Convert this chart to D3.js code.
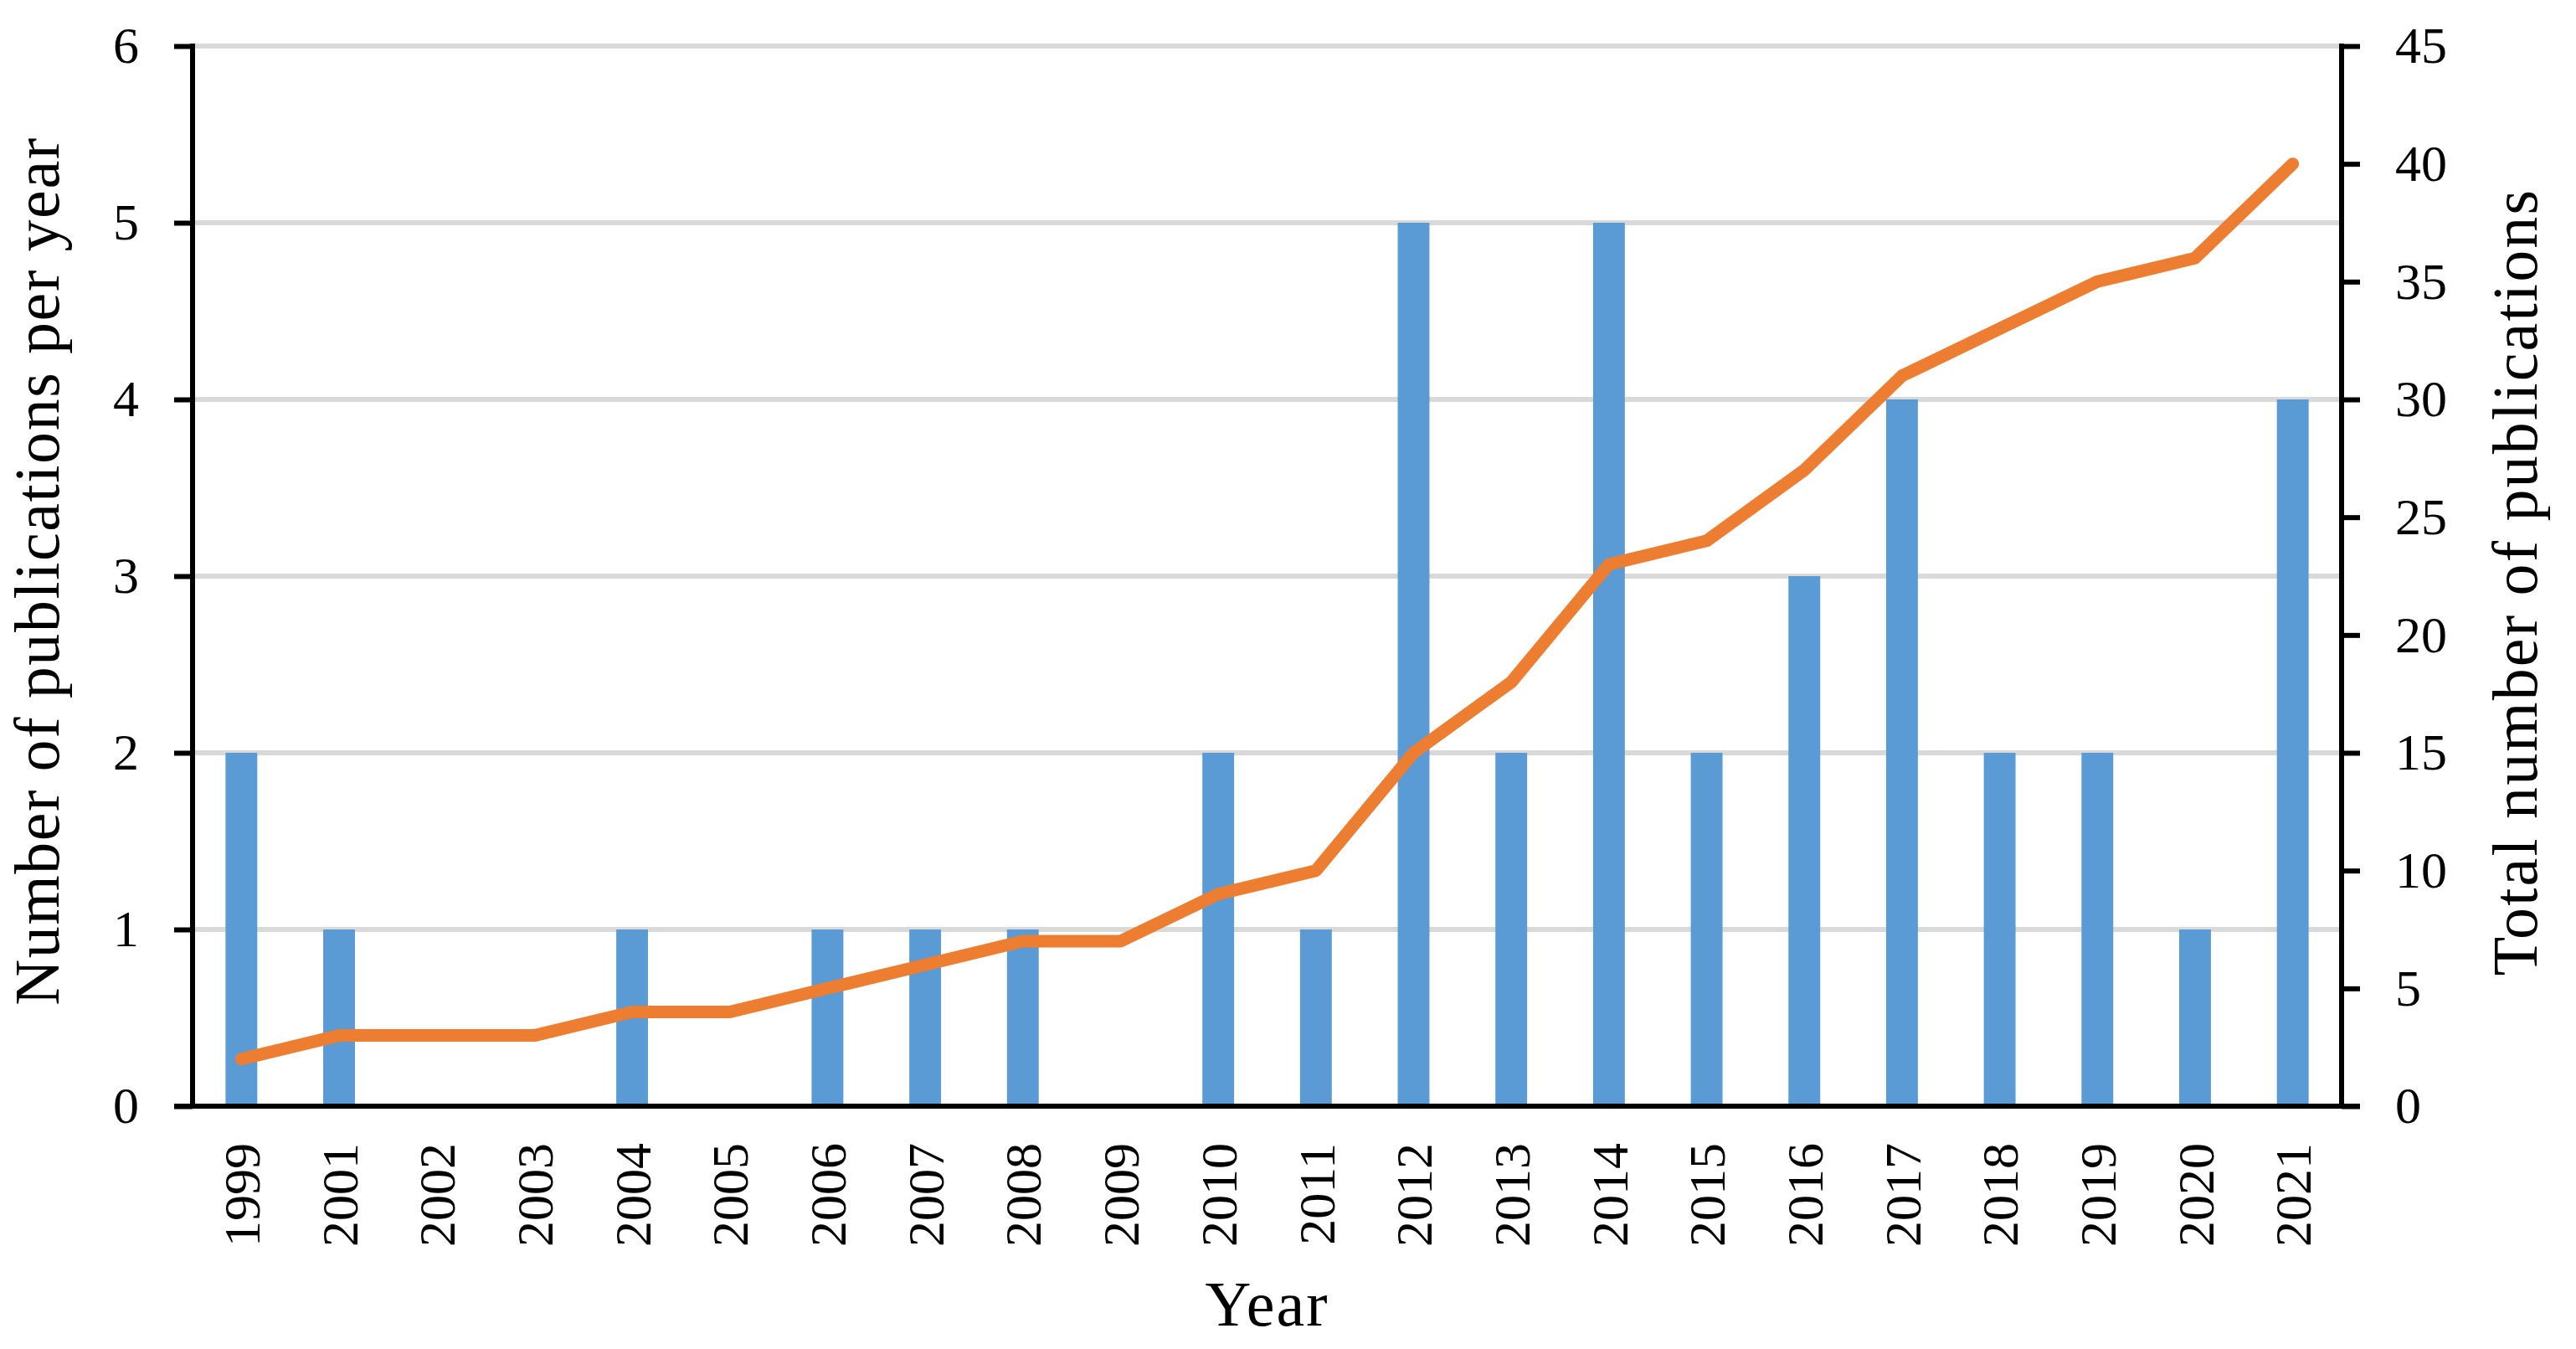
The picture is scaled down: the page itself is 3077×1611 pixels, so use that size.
<!DOCTYPE html>
<html>
<head>
<meta charset="utf-8">
<script src="https://cdn.jsdelivr.net/npm/d3@7.9.0/dist/d3.min.js"></script>
<style>
  html, body { margin: 0; padding: 0; background: #fff; }
  svg text { font-family: "Liberation Serif", serif; fill: #000; }
</style>
</head>
<body>
<svg id="chart" width="3077" height="1611"></svg>
<script>
// --- Data ---
const years = ['1999', '2001', '2002', '2003', '2004', '2005', '2006', '2007', '2008', '2009', '2010',
               '2011', '2012', '2013', '2014', '2015', '2016', '2017', '2018', '2019', '2020', '2021'];
const perYear = [2, 1, 0, 0, 1, 0, 1, 1, 1, 0, 2, 1, 5, 2, 5, 2, 3, 4, 2, 2, 1, 4];
const totalPubs = [2, 3, 3, 3, 4, 4, 5, 6, 7, 7, 9, 10, 15, 18, 23, 24, 27, 31, 33, 35, 36, 40];
const leftTicks = [0, 1, 2, 3, 4, 5, 6];
const rightTicks = [0, 5, 10, 15, 20, 25, 30, 35, 40, 45];

// --- Layout ---
const plotL = 230, plotR = 2797, plotT = 55, plotB = 1321;
const svg = d3.select('#chart');
svg.append('rect').attr('width', 3077).attr('height', 1611).attr('fill', '#fff');

const x = d3.scaleBand().domain(years).range([plotL, plotR]).paddingInner(0.675).paddingOuter(0.3375);
const yL = d3.scaleLinear().domain([0, 6]).range([plotB, plotT]);
const yR = d3.scaleLinear().domain([0, 45]).range([plotB, plotT]);

// Gridlines
svg.append('g')
  .selectAll('line')
  .data(leftTicks.filter(d => d > 0))
  .join('line')
    .attr('x1', plotL).attr('x2', plotR)
    .attr('y1', d => yL(d)).attr('y2', d => yL(d))
    .attr('stroke', '#d9d9d9').attr('stroke-width', 6);

// Bars
svg.append('g')
  .selectAll('rect')
  .data(perYear)
  .join('rect')
    .attr('x', (d, i) => x(years[i]))
    .attr('width', x.bandwidth())
    .attr('y', d => yL(d))
    .attr('height', d => plotB - yL(d))
    .attr('fill', '#5b9bd5');

// Line (cumulative total)
const line = d3.line()
  .x((d, i) => x(years[i]) + x.bandwidth() / 2)
  .y(d => yR(d));
svg.append('path')
  .datum(totalPubs)
  .attr('d', line)
  .attr('fill', 'none')
  .attr('stroke', '#ed7d31')
  .attr('stroke-width', 15)
  .attr('stroke-linejoin', 'round')
  .attr('stroke-linecap', 'round');

// Axes
const axisL = svg.append('g')
  .attr('transform', `translate(${plotL},0)`)
  .call(d3.axisLeft(yL).tickValues(leftTicks).tickFormat(d3.format('d'))
    .tickSize(22).tickPadding(42).tickSizeOuter(0));
const axisR = svg.append('g')
  .attr('transform', `translate(${plotR},0)`)
  .call(d3.axisRight(yR).tickValues(rightTicks).tickFormat(d3.format('d'))
    .tickSize(22).tickPadding(42).tickSizeOuter(0));
const axisB = svg.append('g')
  .attr('transform', `translate(0,${plotB})`)
  .call(d3.axisBottom(x).tickSize(0).tickSizeOuter(0));

[axisL, axisR, axisB].forEach(g => {
  g.selectAll('path.domain').attr('stroke', '#000').attr('stroke-width', 6);
  g.selectAll('.tick line').attr('stroke', '#000').attr('stroke-width', 6);
  g.selectAll('text').attr('font-size', 62);
  g.attr('font-family', null).attr('font-size', null);
});
axisL.select('path.domain').attr('d', `M0,${plotT - 3}V${plotB}`);
axisR.select('path.domain').attr('d', `M0,${plotT - 3}V${plotB}`);
axisB.select('path.domain').attr('d', `M${plotL - 22},0H${plotR + 22}`);
axisB.selectAll('.tick text')
  .attr('transform', 'rotate(-90)')
  .attr('text-anchor', 'end')
  .attr('dy', '0.35em')
  .attr('x', -44)
  .attr('y', 0);

// Axis titles
svg.append('text')
  .attr('transform', 'translate(70,682) rotate(-90)')
  .attr('text-anchor', 'middle')
  .attr('font-size', 76)
  .attr('letter-spacing', 1.6)
  .text('Number of publications per year');
svg.append('text')
  .attr('transform', 'translate(3030,695) rotate(-90)')
  .attr('text-anchor', 'middle')
  .attr('font-size', 76)
  .attr('letter-spacing', 2.2)
  .text('Total number of publications');
svg.append('text')
  .attr('x', (plotL + plotR) / 2)
  .attr('y', 1583)
  .attr('text-anchor', 'middle')
  .attr('font-size', 76)
  .attr('letter-spacing', 2)
  .text('Year');
</script>
</body>
</html>
